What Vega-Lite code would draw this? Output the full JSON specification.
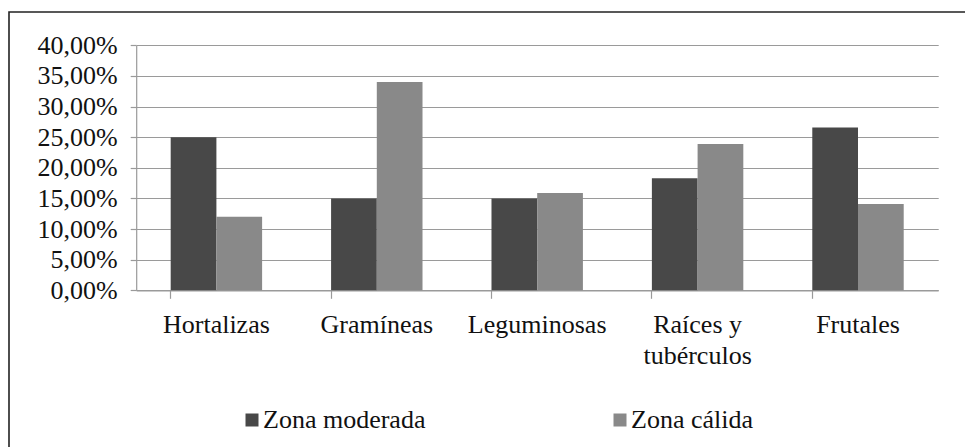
{
  "$schema": "https://vega.github.io/schema/vega-lite/v6.json",
  "autosize": {"type": "none"},
  "padding": {"left": 9, "top": 12, "right": 0, "bottom": 0},
  "width": 956,
  "height": 435,
  "background": "white",
  "config": {
    "view": {"stroke": "#222222", "strokeWidth": 1.6, "strokeDash": [956, 1391, 435]},
    "font": "Liberation Serif, Times New Roman, serif"
  },
  "data": {
    "values": [
      {"cultivo": "Hortalizas", "zona": "Zona moderada", "valor": 25.0},
      {"cultivo": "Hortalizas", "zona": "Zona cálida", "valor": 12.0},
      {"cultivo": "Gramíneas", "zona": "Zona moderada", "valor": 15.0},
      {"cultivo": "Gramíneas", "zona": "Zona cálida", "valor": 34.0},
      {"cultivo": "Leguminosas", "zona": "Zona moderada", "valor": 15.0},
      {"cultivo": "Leguminosas", "zona": "Zona cálida", "valor": 15.9},
      {"cultivo": "Raíces y tubérculos", "zona": "Zona moderada", "valor": 18.3},
      {"cultivo": "Raíces y tubérculos", "zona": "Zona cálida", "valor": 23.9},
      {"cultivo": "Frutales", "zona": "Zona moderada", "valor": 26.6},
      {"cultivo": "Frutales", "zona": "Zona cálida", "valor": 14.1}
    ]
  },
  "mark": {"type": "bar"},
  "encoding": {
    "x": {
      "field": "cultivo",
      "type": "nominal",
      "sort": null,
      "scale": {"range": [127.2, 929.2], "paddingInner": 0.43, "paddingOuter": 0.215},
      "axis": {
        "title": null,
        "orient": "bottom",
        "offset": -156.7,
        "labelAngle": 0,
        "bandPosition": 0,
        "domainColor": "#9a9a9a",
        "domainWidth": 1.2,
        "tickColor": "#9a9a9a",
        "tickWidth": 1.2,
        "tickSize": 8,
        "labelFont": "Liberation Serif, Times New Roman, serif",
        "labelFontSize": 26,
        "labelColor": "#111111",
        "labelBaseline": "alphabetic",
        "labelPadding": 34,
        "labelLineHeight": 31,
        "labelLimit": 0,
        "labelExpr": "datum.label == 'Raíces y tubérculos' ? ['Raíces y', 'tubérculos'] : datum.label"
      }
    },
    "xOffset": {"field": "zona", "type": "nominal", "sort": ["Zona moderada", "Zona cálida"], "scale": {"paddingInner": 0, "paddingOuter": 0}},
    "y": {
      "field": "valor",
      "type": "quantitative",
      "scale": {"domain": [0, 40], "range": [278.3, 33.3], "nice": false, "zero": true},
      "axis": {
        "title": null,
        "orient": "left",
        "offset": -127.2,
        "values": [0, 5, 10, 15, 20, 25, 30, 35, 40],
        "grid": true,
        "gridColor": "#9a9a9a",
        "gridWidth": 1.2,
        "domainColor": "#9a9a9a",
        "domainWidth": 1.2,
        "tickColor": "#9a9a9a",
        "tickWidth": 1.2,
        "tickSize": 6,
        "labelFont": "Liberation Serif, Times New Roman, serif",
        "labelFontSize": 26,
        "labelColor": "#111111",
        "labelPadding": 13,
        "labelLimit": 0,
        "labelExpr": "replace(format(datum.value, '.2f'), '.', ',') + '%'"
      }
    },
    "color": {
      "field": "zona",
      "type": "nominal",
      "sort": ["Zona moderada", "Zona cálida"],
      "scale": {"domain": ["Zona moderada", "Zona cálida"], "range": ["#484848", "#898989"]},
      "legend": {
        "title": null,
        "orient": "none",
        "direction": "horizontal",
        "legendX": 230,
        "legendY": 395,
        "symbolType": "square",
        "symbolSize": 169,
        "symbolStrokeWidth": 0,
        "symbolOpacity": 1,
        "labelFont": "Liberation Serif, Times New Roman, serif",
        "labelFontSize": 26,
        "labelColor": "#111111",
        "labelOffset": -2,
        "labelLimit": 0,
        "columnPadding": 181,
        "padding": 0
      }
    }
  }
}
